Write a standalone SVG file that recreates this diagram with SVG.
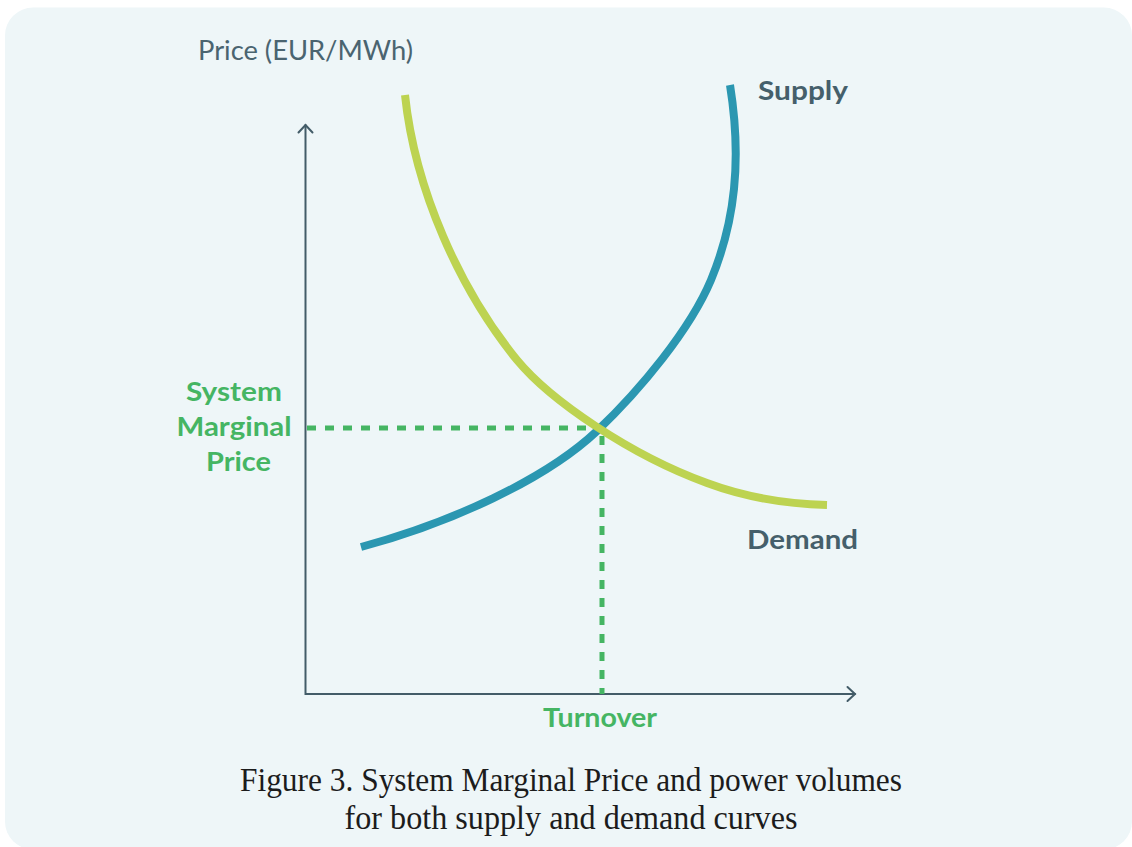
<svg xmlns="http://www.w3.org/2000/svg" width="1132" height="847" viewBox="0 0 1132 847">
  <defs>
    <style>
      .axis { fill: none; stroke: #435c68; stroke-width: 2; stroke-linecap: round; stroke-linejoin: miter; }
      .dash { fill: none; stroke: #45b563; stroke-width: 5; stroke-dasharray: 9 9; }
      .supply { fill: none; stroke: #2b97b1; stroke-width: 8; }
      .demand { fill: none; stroke: #bdd351; stroke-width: 8; }
      .lbl { font-family: Lato, "Liberation Sans", sans-serif; font-weight: bold; font-size: 26px; fill: #455f6b; }
      .glbl { font-family: Lato, "Liberation Sans", sans-serif; font-weight: bold; font-size: 26px; fill: #45b563; text-anchor: middle; }
      .axt { font-family: Lato, "Liberation Sans", sans-serif; font-size: 26px; fill: #4a6470; }
      .cap { font-family: "Liberation Serif", serif; font-size: 33px; fill: #1c1c1c; text-anchor: middle; }
    </style>
  </defs>
  <rect x="0" y="0" width="1132" height="847" fill="#ffffff"/>
  <rect x="5" y="7.5" width="1127" height="842" rx="28" ry="28" fill="#eef6f8"/>

  <g id="axes">
    <path class="axis" d="M305.5,125 V694 H855"/>
    <path class="axis" d="M298.5,132.5 L305.5,125 L312.5,132.5"/>
    <path class="axis" d="M847.5,687 L855,694 L847.5,701"/>
  </g>

  <g id="connectors">
    <path class="dash" d="M307,428 H597"/>
    <path class="dash" d="M602,436 V694"/>
  </g>

  <g id="supply-curve">
    <path class="supply" d="M361,547 C450,523 545,480 597,431 C640,390 690,330 711,280 C735,222 742,160 730,85"/>
  </g>
  <g id="demand-curve">
    <path class="demand" d="M405,95 C415,190 460,290 517,360 C550,400 630,455 707,483 C750,499 790,504 827,505"/>
  </g>

  <g id="y-axis-label">
    <text class="axt" x="198" y="60" textLength="215" lengthAdjust="spacingAndGlyphs">Price (EUR/MWh)</text>
  </g>
  <g id="supply-label">
    <text class="lbl" x="758" y="100" textLength="90" lengthAdjust="spacingAndGlyphs">Supply</text>
  </g>
  <g id="demand-label">
    <text class="lbl" x="747" y="549" textLength="111" lengthAdjust="spacingAndGlyphs">Demand</text>
  </g>
  <g id="smp-label">
    <text class="glbl" x="234" y="401" textLength="96" lengthAdjust="spacingAndGlyphs">System</text>
    <text class="glbl" x="234" y="436" textLength="115" lengthAdjust="spacingAndGlyphs">Marginal</text>
    <text class="glbl" x="238.5" y="471" textLength="65" lengthAdjust="spacingAndGlyphs">Price</text>
  </g>
  <g id="turnover-label">
    <text class="glbl" x="600" y="727" textLength="114" lengthAdjust="spacingAndGlyphs">Turnover</text>
  </g>
  <g id="caption">
    <text class="cap" x="571" y="791" textLength="662" lengthAdjust="spacingAndGlyphs">Figure 3. System Marginal Price and power volumes</text>
    <text class="cap" x="571" y="829" textLength="453" lengthAdjust="spacingAndGlyphs">for both supply and demand curves</text>
  </g>
</svg>
